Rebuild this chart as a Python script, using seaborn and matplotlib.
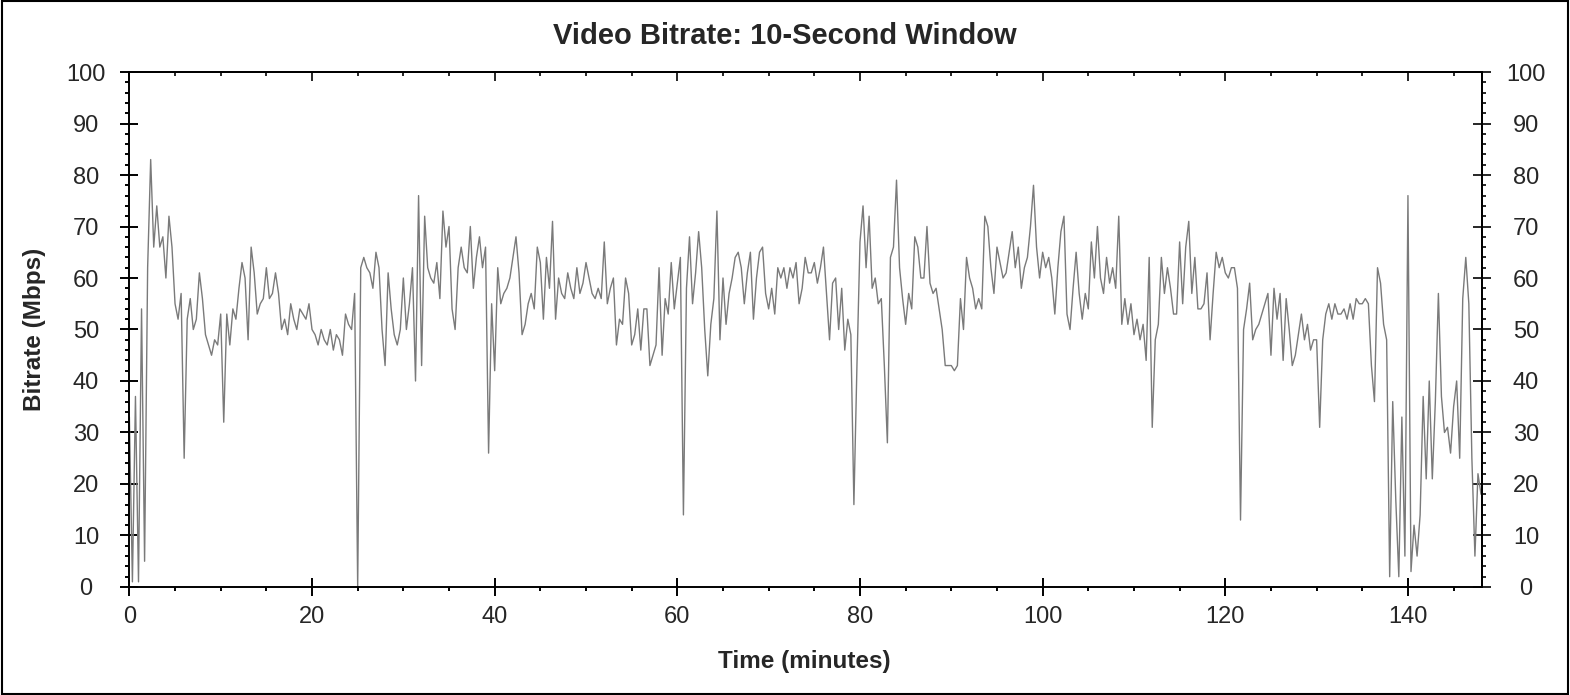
import numpy as np
import pandas as pd
import seaborn as sns
import matplotlib
matplotlib.use('Agg')
import matplotlib.pyplot as plt
from matplotlib.ticker import MultipleLocator

# bitrate readings in Mbps, one reading every 20 seconds
part_0_19 = [33, 1, 37, 1, 54, 5, 62, 83, 66, 74,
             66, 68, 60, 72, 66, 55, 52, 57, 25, 52,
             56, 50, 52, 61, 56, 49, 47, 45, 48, 47,
             53, 32, 53, 47, 54, 52, 58, 63, 60, 48,
             66, 61, 53, 55, 56, 62, 56, 57, 61, 57,
             50, 52, 49, 55, 52, 50, 54]
part_19_38 = [53, 52, 55, 50, 49, 47, 50, 48, 47, 50,
              46, 49, 48, 45, 53, 51, 50, 57, 0, 62,
              64, 62, 61, 58, 65, 62, 50, 43, 61, 54,
              49, 47, 50, 60, 50, 55, 62, 40, 76, 43,
              72, 62, 60, 59, 63, 56, 73, 66, 70, 54,
              50, 62, 66, 62, 61, 70, 58]
part_38_57 = [64, 68, 62, 66, 26, 55, 42, 62, 55, 57,
              58, 60, 64, 68, 61, 49, 51, 55, 57, 54,
              66, 63, 52, 64, 58, 71, 52, 60, 57, 56,
              61, 58, 56, 62, 57, 59, 63, 60, 57, 56,
              58, 56, 67, 55, 58, 60, 47, 52, 51, 60,
              57, 47, 49, 54, 46, 54, 54, 43]
part_57_76 = [45, 47, 62, 45, 56, 53, 63, 54, 59, 64,
              14, 58, 68, 55, 61, 69, 62, 50, 41, 51,
              56, 73, 48, 60, 51, 57, 60, 64, 65, 62,
              55, 61, 65, 52, 60, 65, 66, 57, 54, 58,
              53, 62, 60, 62, 58, 62, 60, 63, 55, 58,
              64, 61, 61, 63, 59, 62, 66]
part_76_95 = [57, 48, 59, 60, 50, 58, 46, 52, 49, 16,
              43, 67, 74, 62, 72, 58, 60, 55, 56, 43,
              28, 64, 66, 79, 62, 56, 51, 57, 54, 68,
              66, 60, 60, 70, 59, 57, 58, 54, 50, 43,
              43, 43, 42, 43, 56, 50, 64, 60, 58, 54,
              56, 54, 72, 70, 62, 57, 66]
part_95_114 = [63, 60, 61, 65, 69, 62, 66, 58, 62, 64,
               70, 78, 66, 60, 65, 62, 64, 60, 53, 62,
               69, 72, 53, 50, 58, 65, 57, 52, 57, 54,
               67, 60, 70, 60, 57, 64, 59, 62, 58, 72,
               51, 56, 51, 55, 49, 52, 48, 51, 44, 64,
               31, 48, 51, 64, 57, 62, 58, 53]
part_114_134 = [53, 67, 55, 66, 71, 57, 64, 54, 54, 55,
                61, 48, 57, 65, 62, 64, 61, 60, 62, 62,
                58, 13, 50, 54, 59, 48, 50, 51, 53, 55,
                57, 45, 58, 52, 57, 44, 56, 50, 43, 45,
                49, 53, 48, 51, 46, 48, 48, 31, 48, 53,
                55, 52, 55, 53, 53, 54, 52, 55]
part_134_148 = [52, 56, 55, 55, 56, 55, 43, 36, 62, 59,
                51, 48, 2, 36, 17, 2, 33, 6, 76, 3,
                12, 6, 14, 37, 21, 40, 21, 36, 57, 37,
                30, 31, 26, 35, 40, 25, 56, 64, 55, 25,
                6, 22, 18]

step_min = 1 / 3  # 20 second spacing
x_ticks = [0, 20, 40, 60, 80, 100, 120, 140]
y_ticks = [0, 10, 20, 30, 40, 50, 60, 70, 80, 90, 100]

mbps = (part_0_19 + part_19_38 + part_38_57 + part_57_76 + part_76_95
        + part_95_114 + part_114_134 + part_134_148)
df = pd.DataFrame({'minutes': np.arange(len(mbps)) * step_min, 'mbps': mbps})

sns.set_style('ticks')
plt.rcParams['font.family'] = ['Liberation Sans', 'DejaVu Sans']

fig, ax = plt.subplots(figsize=(15.7, 6.95), dpi=100)
fig.subplots_adjust(left=0.0824, right=0.9439, bottom=0.1554, top=0.8964)

sns.lineplot(data=df, x='minutes', y='mbps', color='#7a7a7a', linewidth=1.0,
             estimator=None, ax=ax)

ax.set_xlim(0, 148.1)
ax.set_ylim(0, 100)
ax.set_xticks(x_ticks)
ax.set_yticks(y_ticks)
ax.xaxis.set_minor_locator(MultipleLocator(5))
ax.yaxis.set_minor_locator(MultipleLocator(2))

for sp in ax.spines.values():
    sp.set_linewidth(1.4)
    sp.set_color('black')

ax.tick_params(which='major', direction='inout', length=13, width=1.4,
               labelsize=17, top=False, right=False, color='black')
ax.tick_params(which='minor', direction='out', length=3.2, width=1.4,
               top=False, right=False, color='black')
ax.tick_params(axis='x', which='major', pad=7.5)
ax.tick_params(axis='y', which='major', pad=24.7)
for lbl in ax.get_yticklabels():
    lbl.set_horizontalalignment('center')

# top axis: ticks pointing inwards only
top = ax.secondary_xaxis('top')
top.set_xticks(x_ticks)
top.xaxis.set_minor_locator(MultipleLocator(5))
top.tick_params(which='major', direction='in', length=6.5, width=1.4, labeltop=False)
top.tick_params(which='minor', direction='in', length=3, width=1.4)
top.spines['top'].set_linewidth(1.4)

# right axis repeats the bitrate scale
right = ax.secondary_yaxis('right')
right.set_yticks(y_ticks)
right.yaxis.set_minor_locator(MultipleLocator(2))
right.tick_params(which='major', direction='inout', length=13, width=1.4,
                  labelsize=17, pad=25.2)
right.tick_params(which='minor', direction='out', length=3.2, width=1.4)
right.spines['right'].set_linewidth(1.4)
for lbl in right.get_yticklabels():
    lbl.set_horizontalalignment('center')

ax.set_xlabel('Time (minutes)', fontsize=17.5, fontweight='bold')
ax.set_ylabel('Bitrate (Mbps)', fontsize=17.5, fontweight='bold')
ax.xaxis.set_label_coords(0.4988, -0.1224)
ax.yaxis.set_label_coords(-0.062, 0.5)

fig.suptitle('Video Bitrate: 10-Second Window', x=0.5, y=1 - 36 / 695,
             va='center', fontsize=21, fontweight='bold')

# thin frame around the whole image
fig.add_artist(plt.Rectangle((0.001, 0.001), 0.998, 0.998, transform=fig.transFigure,
                             fill=False, edgecolor='black', linewidth=1.5))

fig.savefig('out.png', dpi=100)
